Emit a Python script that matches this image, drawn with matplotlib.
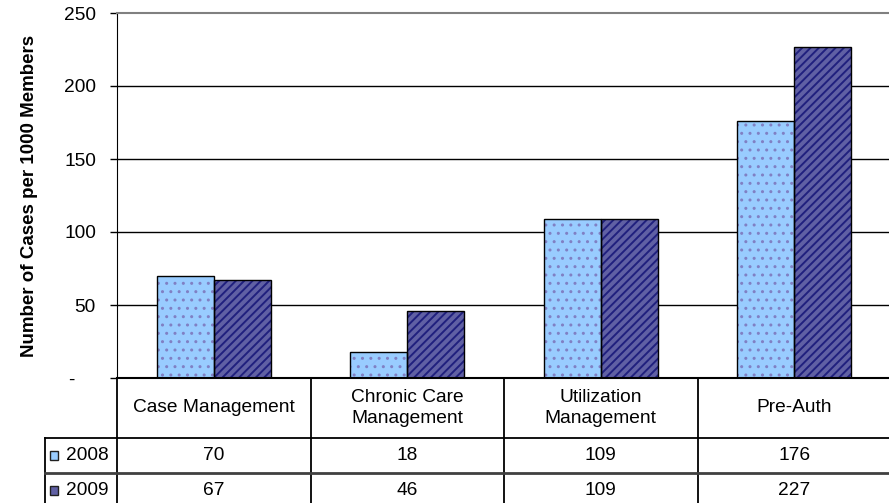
import matplotlib
matplotlib.use("Agg")
import matplotlib.pyplot as plt
import matplotlib.transforms as mtransforms
from matplotlib.patches import Rectangle
from matplotlib.lines import Line2D
import numpy as np

# ---- data -------------------------------------------------------------
categories = ["Case Management", "Chronic Care\nManagement",
              "Utilization\nManagement", "Pre-Auth"]
years = ["2008", "2009"]
cases_2008 = [70, 18, 109, 176]
cases_2009 = [67, 46, 109, 227]
y_ticks = [0, 50, 100, 150, 200, 250]
y_tick_labels = ["-", "50", "100", "150", "200", "250"]
y_label = "Number of Cases per 1000 Members"

series = {"2008": cases_2008, "2009": cases_2009}
styles = {
    "2008": dict(face="#99CCFF", hatch="..", hatch_color="#8080C4", hatch_lw=1.0),
    "2009": dict(face="#6060A4", hatch="////", hatch_color="#20207E", hatch_lw=1.4),
}

# ---- figure / axes (pixel layout) -------------------------------------
W, H = 889, 503
plt.rcParams["font.family"] = ["Liberation Sans", "DejaVu Sans"]
FS = 13.8

fig = plt.figure(figsize=(W / 100, H / 100), dpi=100)
ax_left, ax_right, ax_top, ax_bottom = 117, 891, 13, 378
ax = fig.add_axes([ax_left / W, 1 - ax_bottom / H,
                   (ax_right - ax_left) / W, (ax_bottom - ax_top) / H])

x = np.arange(len(categories))
bar_w = 0.294


def styled_bar(xpos, heights, style):
    with plt.rc_context({"hatch.linewidth": style["hatch_lw"]}):
        bars = ax.bar(xpos, heights, bar_w, color=style["face"],
                      edgecolor=style["hatch_color"], linewidth=0,
                      hatch=style["hatch"], zorder=2)
    for b in bars:
        if hasattr(b, "set_hatch_linewidth"):
            b.set_hatch_linewidth(style["hatch_lw"])
    ax.bar(xpos, heights, bar_w, fill=False, edgecolor="black",
           linewidth=1.0, zorder=3)


for i, yr in enumerate(years):
    offset = (i - 0.5) * bar_w
    styled_bar(x + offset, series[yr], styles[yr])

ax.set_xlim(-0.5, len(categories) - 0.5)
ax.set_ylim(y_ticks[0], y_ticks[-1])

# gridlines (the top border is the grey plot-area frame)
ax.hlines(y_ticks[1:-1], -0.5, len(categories) - 0.5, colors="black",
          linewidth=1.0, zorder=1)

ax.spines["right"].set_visible(False)
ax.spines["top"].set_color("#808080")
ax.spines["top"].set_linewidth(1.5)
ax.spines["left"].set_color("black")
ax.spines["bottom"].set_color("black")
ax.spines["bottom"].set_linewidth(1.5)

ax.set_xticks([])
ax.set_yticks(y_ticks)
ax.set_yticklabels(y_tick_labels, fontsize=FS)
ax.tick_params(axis="y", direction="out", length=4.8, width=1.0, pad=10.4)

# the "-" for zero sits further left (accounting-style number format)
zero_lbl = ax.get_yticklabels()[0]
zero_lbl.set_transform(zero_lbl.get_transform() +
                       mtransforms.ScaledTranslation(-21 / 100, 0, fig.dpi_scale_trans))

ax.set_ylabel(y_label, fontsize=13.5, fontweight="bold")
ax.yaxis.set_label_coords((38 - ax_left) / (ax_right - ax_left), 0.5)

# ---- data table beneath the plot --------------------------------------
def fy(px):
    return 1 - px / H


def fx(px):
    return px / W


tx = mtransforms.blended_transform_factory(ax.transData, fig.transFigure)
tf = fig.transFigure

row_cat = (378, 438)
row_2008 = (438, 473)
row_2009 = (473, 508)
key_left = 45

# vertical lines between category columns
for b in np.arange(len(categories)) - 0.5:
    fig.add_artist(Line2D([b, b], [fy(378), fy(H + 5)], transform=tx,
                          color="black", linewidth=1.3))
# left border of the legend column
fig.add_artist(Line2D([fx(key_left), fx(key_left)], [fy(row_2008[0]), fy(H + 5)],
                      transform=tf, color="black", linewidth=1.3))
# horizontal row separators
for ypx, col, lw in ((row_2008[0], "black", 1.3), (row_2009[0], "#404040", 2.0)):
    fig.add_artist(Line2D([fx(key_left), fx(W + 5)], [fy(ypx), fy(ypx)],
                          transform=tf, color=col, linewidth=lw))

# category header row
for i, cat in enumerate(categories):
    fig.text(i, fy(sum(row_cat) / 2), cat, transform=tx, ha="center",
             va="center", fontsize=FS, linespacing=1.32, multialignment="center")

# value rows with legend keys
for yr, row in (("2008", row_2008), ("2009", row_2009)):
    yc = sum(row) / 2
    for i, v in enumerate(series[yr]):
        fig.text(i, fy(yc), f"{v}", transform=tx, ha="center", va="center",
                 fontsize=FS)
    st = styles[yr]
    with plt.rc_context({"hatch.linewidth": 1.0}):
        key = Rectangle((fx(50), fy(yc + 4.5)), 8 / W, 9 / H, transform=tf,
                        facecolor=st["face"], edgecolor=st["hatch_color"],
                        hatch=st["hatch"][0], linewidth=0)
    fig.add_artist(key)
    fig.add_artist(Rectangle((fx(50), fy(yc + 4.5)), 8 / W, 9 / H, transform=tf,
                             fill=False, edgecolor="#202020", linewidth=1.0))
    fig.text(fx(66), fy(yc), yr, transform=tf, ha="left", va="center",
             fontsize=FS)

fig.savefig("out.png", dpi=100)
